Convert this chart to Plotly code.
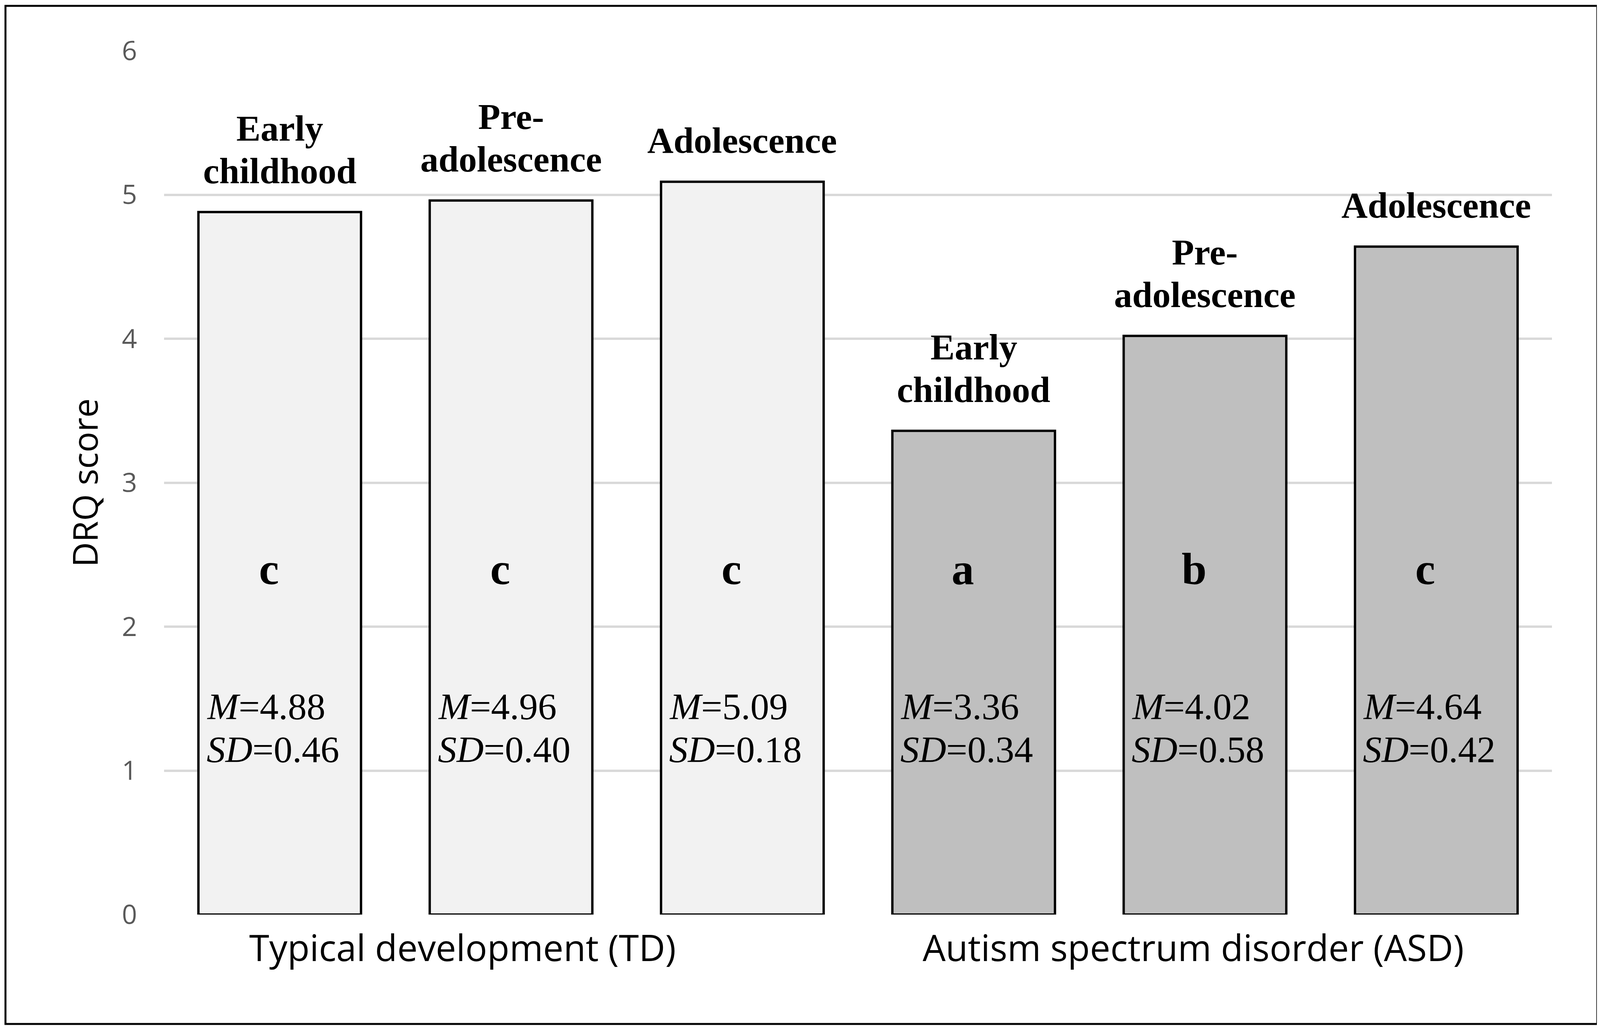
import plotly.graph_objects as go

# DRQ score by age group and diagnosis
stages = ["Early<br>childhood", "Pre-<br>adolescence", "Adolescence",
          "Early<br>childhood", "Pre-<br>adolescence", "Adolescence"]
means = [4.88, 4.96, 5.09, 3.36, 4.02, 4.64]
sds = [0.46, 0.40, 0.18, 0.34, 0.58, 0.42]
letters = ["c", "c", "c", "a", "b", "c"]
groups = ["Typical development (TD)", "Autism spectrum disorder (ASD)"]
group_x = [0.79, 3.95]
bar_colors = ["#F2F2F2"] * 3 + ["#BFBFBF"] * 3
y_ticks = [0, 1, 2, 3, 4, 5, 6]

# the page body has an 8px margin, so work in page pixels and subtract it
OFF = 8
W, H = 4107 - OFF, 2639 - OFF
L, T = 420 - OFF, 130 - OFF
plot_w, plot_h = 3553, 2211
R = W - L - plot_w
B = H - T - plot_h


def px_x(p):
    return (p - OFF - L) / plot_w


def px_y(p):
    return (T + plot_h - (p - OFF)) / plot_h


serif = "Liberation Serif"
sans = "Open Sans"

xs = list(range(len(means)))

fig = go.Figure()
fig.add_trace(go.Bar(
    x=xs, y=means, width=0.703,
    marker=dict(color=bar_colors, line=dict(color="black", width=6)),
    hoverinfo="skip", showlegend=False,
))

ann = []
# stage labels above bars, one annotation per line
for i, lab in enumerate(stages):
    lines = lab.split("<br>")
    for k, line in enumerate(reversed(lines)):
        ann.append(dict(x=xs[i], y=means[i], xref="x", yref="y",
                        text="<b>%s</b>" % line, showarrow=False,
                        yanchor="bottom", xanchor="center",
                        yshift=52 + 109 * k,
                        font=dict(family=serif, size=93, color="black")))
    # significance letters
    ann.append(dict(x=xs[i], y=2.40, xref="x", yref="y",
                    text="<b>%s</b>" % letters[i], showarrow=False,
                    xshift=-28, yanchor="middle",
                    font=dict(family=serif, size=115, color="black")))
    # mean / sd text
    ann.append(dict(x=xs[i] - 0.32, y=1.295, xref="x", yref="y",
                    text="<i>M</i>=%.2f" % means[i], showarrow=False,
                    xanchor="left", yanchor="bottom",
                    font=dict(family=serif, size=96, color="black")))
    ann.append(dict(x=xs[i] - 0.32, y=0.995, xref="x", yref="y",
                    text="<i>SD</i>=%.2f" % sds[i], showarrow=False,
                    xanchor="left", yanchor="bottom",
                    font=dict(family=serif, size=96, color="black")))

for g, gx in zip(groups, group_x):
    ann.append(dict(x=gx, y=px_y(2424), xref="x", yref="paper",
                    text=g, showarrow=False, yanchor="middle",
                    font=dict(family=sans, size=93, color="black")))

ann.append(dict(x=px_x(215), y=0.5, xref="paper", yref="paper",
                text="DRQ score", textangle=-90, showarrow=False,
                xanchor="center", yanchor="middle",
                font=dict(family=sans, size=88, color="black")))

fig.update_layout(
    width=W, height=H,
    margin=dict(l=L, r=R, t=T, b=B),
    plot_bgcolor="white", paper_bgcolor="white",
    annotations=ann,
    shapes=[dict(type="rect", xref="paper", yref="paper",
                 x0=px_x(14), x1=px_x(4089),
                 y0=px_y(2621), y1=px_y(15),
                 line=dict(color="black", width=5), fillcolor="rgba(0,0,0,0)",
                 layer="above")],
)
fig.update_xaxes(range=[-0.5, 5.5], showticklabels=False, showgrid=False,
                 zeroline=False, showline=False)
fig.update_yaxes(range=[0, 6], tickvals=y_ticks, showgrid=True,
                 gridcolor="#D9D9D9", gridwidth=6, zeroline=False,
                 showline=False, ticklabelstandoff=68,
                 tickfont=dict(family=sans, size=68, color="#595959"))

fig.write_html("out.html")
